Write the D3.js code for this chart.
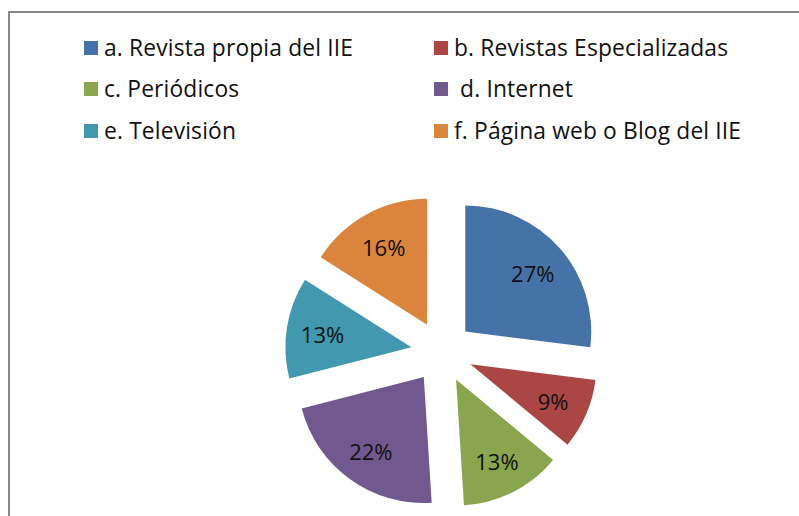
<!DOCTYPE html>
<html><head><meta charset="utf-8">
<script src="https://cdn.jsdelivr.net/npm/d3@7/dist/d3.min.js"></script>
<style>body{margin:0;background:#fff;} svg{display:block;}</style>
</head><body>
<svg id="c" width="799" height="516"></svg>
<script>
const categories = ["a. Revista propia del IIE","b. Revistas Especializadas","c. Periódicos"," d. Internet","e. Televisión","f. Página web o Blog del IIE"];
const values = [27, 9, 13, 22, 13, 16];
const colors = ["#4572A7","#AA4643","#89A54E","#71588F","#4198AF","#DB843D"];

const svg = d3.select("#c");
svg.append("rect").attr("x",9).attr("y",12).attr("width",820).attr("height",540)
  .attr("fill","none").attr("stroke","#878787").attr("stroke-width",2);

const font = "'Open Sans', sans-serif";
// legend
const legCols = [84, 434], legRows = [41, 82, 124];
categories.forEach((c,i)=>{
  const x = legCols[i%2], y = legRows[Math.floor(i/2)];
  svg.append("rect").attr("x",x).attr("y",y).attr("width",14).attr("height",14).attr("fill",colors[i]);
  svg.append("text").attr("x",x+20).attr("y",y+15)
    .attr("font-family",font).attr("font-size",22.8).attr("letter-spacing",0.15).attr("fill","#111")
    .attr("xml:space","preserve").style("white-space","pre").text(c);
});

const cx = 442, cy = 352, R = 126, explode = 31, labelR = 90;
const pie = d3.pie().sort(null).value(d=>d);
const arcs = pie(values);
const arc = d3.arc().innerRadius(0).outerRadius(R);
const g = svg.append("g").attr("transform",`translate(${cx},${cy})`);
arcs.forEach((a,i)=>{
  const mid = (a.startAngle+a.endAngle)/2;
  const ox = Math.sin(mid)*explode, oy = -Math.cos(mid)*explode;
  const sg = g.append("g").attr("transform",`translate(${ox},${oy})`);
  sg.append("path").attr("d",arc(a)).attr("fill",colors[i]);
  sg.append("text").attr("x",Math.sin(mid)*labelR).attr("y",-Math.cos(mid)*labelR)
    .attr("dy","0.45em").attr("text-anchor","middle")
    .attr("font-family",font).attr("font-size",22).attr("fill","#111")
    .text(values[i]+"%");
});
</script>
</body></html>
